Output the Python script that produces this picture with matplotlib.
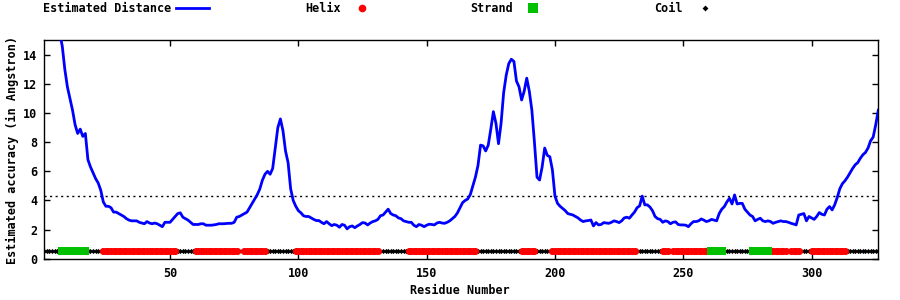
import matplotlib
matplotlib.use("Agg")
import matplotlib.pyplot as plt
from matplotlib.lines import Line2D

# estimated distance per residue (1..326)
distance = [
    22.0, 20.5, 19.2, 18.1, 17.1, 16.3, 15.5, 14.6, 13.0, 11.8,
    11.0, 10.2, 9.2, 8.6, 8.9, 8.4, 8.6, 6.8, 6.3, 5.9,
    5.5, 5.2, 4.7, 3.9, 3.6, 3.6, 3.5, 3.2, 3.2, 3.1,
    3.0, 2.9, 2.75, 2.65, 2.6, 2.6, 2.6, 2.5, 2.45, 2.4,
    2.55, 2.45, 2.4, 2.45, 2.4, 2.3, 2.2, 2.5, 2.5, 2.5,
    2.7, 2.9, 3.1, 3.15, 2.85, 2.75, 2.65, 2.5, 2.35, 2.35,
    2.35, 2.4, 2.4, 2.3, 2.3, 2.3, 2.32, 2.35, 2.4, 2.4,
    2.4, 2.42, 2.43, 2.43, 2.5, 2.85, 2.9, 3.0, 3.1, 3.2,
    3.5, 3.8, 4.1, 4.4, 4.8, 5.4, 5.8, 6.0, 5.8, 6.2,
    7.6, 9.0, 9.6, 8.8, 7.4, 6.6, 4.8, 4.0, 3.6, 3.3,
    3.15, 2.95, 2.9, 2.9, 2.8, 2.7, 2.62, 2.62, 2.5, 2.4,
    2.55, 2.4, 2.27, 2.35, 2.3, 2.16, 2.35, 2.3, 2.05, 2.2,
    2.25, 2.13, 2.25, 2.35, 2.48, 2.45, 2.32, 2.45, 2.55, 2.6,
    2.7, 2.95, 3.0, 3.2, 3.4, 3.1, 3.0, 2.95, 2.8, 2.75,
    2.6, 2.55, 2.5, 2.5, 2.3, 2.2, 2.35, 2.3, 2.2, 2.3,
    2.37, 2.35, 2.32, 2.45, 2.5, 2.45, 2.43, 2.5, 2.6, 2.75,
    2.9, 3.15, 3.5, 3.85, 4.0, 4.1, 4.4, 5.0, 5.6, 6.4,
    7.8, 7.75, 7.4, 7.8, 8.9, 10.1, 9.3, 7.9, 9.3, 11.4,
    12.6, 13.4, 13.7, 13.55, 12.2, 11.8, 10.9, 11.5, 12.4, 11.5,
    10.2, 8.0, 5.6, 5.4, 6.3, 7.6, 7.1, 7.0, 6.1, 4.3,
    3.8, 3.6, 3.45, 3.3, 3.1, 3.05, 3.0, 2.9, 2.8, 2.65,
    2.55, 2.6, 2.62, 2.66, 2.25, 2.48, 2.32, 2.35, 2.48, 2.45,
    2.43, 2.5, 2.6, 2.55, 2.48, 2.6, 2.8, 2.85, 2.78, 3.0,
    3.2, 3.5, 3.63, 4.3, 3.7, 3.7, 3.55, 3.3, 2.9, 2.75,
    2.7, 2.5, 2.6, 2.55, 2.4, 2.5, 2.53, 2.35, 2.32, 2.32,
    2.3, 2.2, 2.4, 2.55, 2.55, 2.6, 2.73, 2.65, 2.55, 2.6,
    2.7, 2.65, 2.6, 3.1, 3.4, 3.58, 3.9, 4.15, 3.76, 4.38,
    3.76, 3.8, 3.8, 3.4, 3.2, 3.0, 2.9, 2.6, 2.7, 2.78,
    2.6, 2.55, 2.6, 2.55, 2.43, 2.5, 2.55, 2.6, 2.55, 2.55,
    2.5, 2.43, 2.38, 2.32, 3.0, 3.05, 3.1, 2.6, 2.9, 2.8,
    2.7, 2.9, 3.17, 3.05, 3.0, 3.4, 3.58, 3.35, 3.7, 4.2,
    4.8, 5.15, 5.35, 5.6, 5.9, 6.2, 6.45, 6.6, 6.9, 7.14,
    7.3, 7.6, 8.1, 8.35, 9.2, 10.2,
]
residues = list(range(1, len(distance) + 1))

# secondary structure segments (first, last residue)
helix_segs = [(24, 52), (60, 76), (79, 87), (99, 131), (143, 169), (187, 192),
              (199, 231), (242, 244), (246, 260), (284, 290), (292, 295), (300, 313)]
strand_segs = [(8, 17), (261, 265), (277, 283)]

threshold = 4.3
ss_level = 0.5

helix_x = [r for a, b in helix_segs for r in range(a, b + 1)]
strand_x = [r for a, b in strand_segs for r in range(a, b + 1)]
coil_x = [r for r in residues if r not in helix_x and r not in strand_x]

FONT = "DejaVu Sans Mono"
plt.rcParams["font.family"] = FONT
plt.rcParams["font.weight"] = "bold"
plt.rcParams["font.size"] = 8.5

W, H = 900, 300
fig = plt.figure(figsize=(W / 100, H / 100), dpi=100)
ax = fig.add_axes([44.3 / W, 1 - 258.7 / H, 834 / W, 218.4 / H])


def px(x, y):
    return x / W, 1 - y / H


ax.plot(residues, distance, color="#0000ff", lw=2, zorder=3)
ax.axhline(threshold, color="black", lw=1, ls=(0, (1.5, 2.5)), zorder=2)

ax.scatter(coil_x, [ss_level] * len(coil_x), marker="D", s=7, color="black",
           linewidths=0, zorder=4)
ax.scatter(helix_x, [ss_level] * len(helix_x), marker="o", s=26, color="#ff0000",
           linewidths=0, zorder=5)
ax.scatter(strand_x, [ss_level] * len(strand_x), marker="s", s=26, color="#00c000",
           linewidths=0, zorder=5)

ax.set_xlim(1, 326)
ax.set_ylim(0, 15)
ax.set_xticks([50, 100, 150, 200, 250, 300])
ax.set_yticks(range(0, 15, 2))
ax.tick_params(direction="in", length=4, width=1, top=True, right=True,
               labelsize=8.5)
ax.tick_params(axis="x", pad=6)
ax.tick_params(axis="y", pad=5)
for s in ax.spines.values():
    s.set_linewidth(1)

fig.text(*px(460, 291), "Residue Number", ha="center", va="center")
fig.text(*px(12, 150), "Estimated accuracy (in Angstron)", ha="center",
         va="center", rotation=90)

# gnuplot-style key along the top
fig.text(*px(43, 8), "Estimated Distance", ha="left", va="center")
fig.add_artist(Line2D([176 / W, 209 / W], [1 - 7.5 / H] * 2, color="#0000ff",
                      lw=2, transform=fig.transFigure))
fig.text(*px(305, 8), "Helix", ha="left", va="center")
fig.add_artist(Line2D([362 / W], [1 - 8 / H], marker="o", ms=5.5, color="#ff0000",
                      mew=0, transform=fig.transFigure))
fig.text(*px(470, 8), "Strand", ha="left", va="center")
fig.add_artist(Line2D([533 / W], [1 - 8 / H], marker="s", ms=6.5, color="#00c000",
                      mew=0, transform=fig.transFigure))
fig.text(*px(654, 8), "Coil", ha="left", va="center")
fig.add_artist(Line2D([705 / W], [1 - 8 / H], marker="D", ms=3, color="black",
                      mew=0, transform=fig.transFigure))

fig.savefig("out.png", dpi=100)
